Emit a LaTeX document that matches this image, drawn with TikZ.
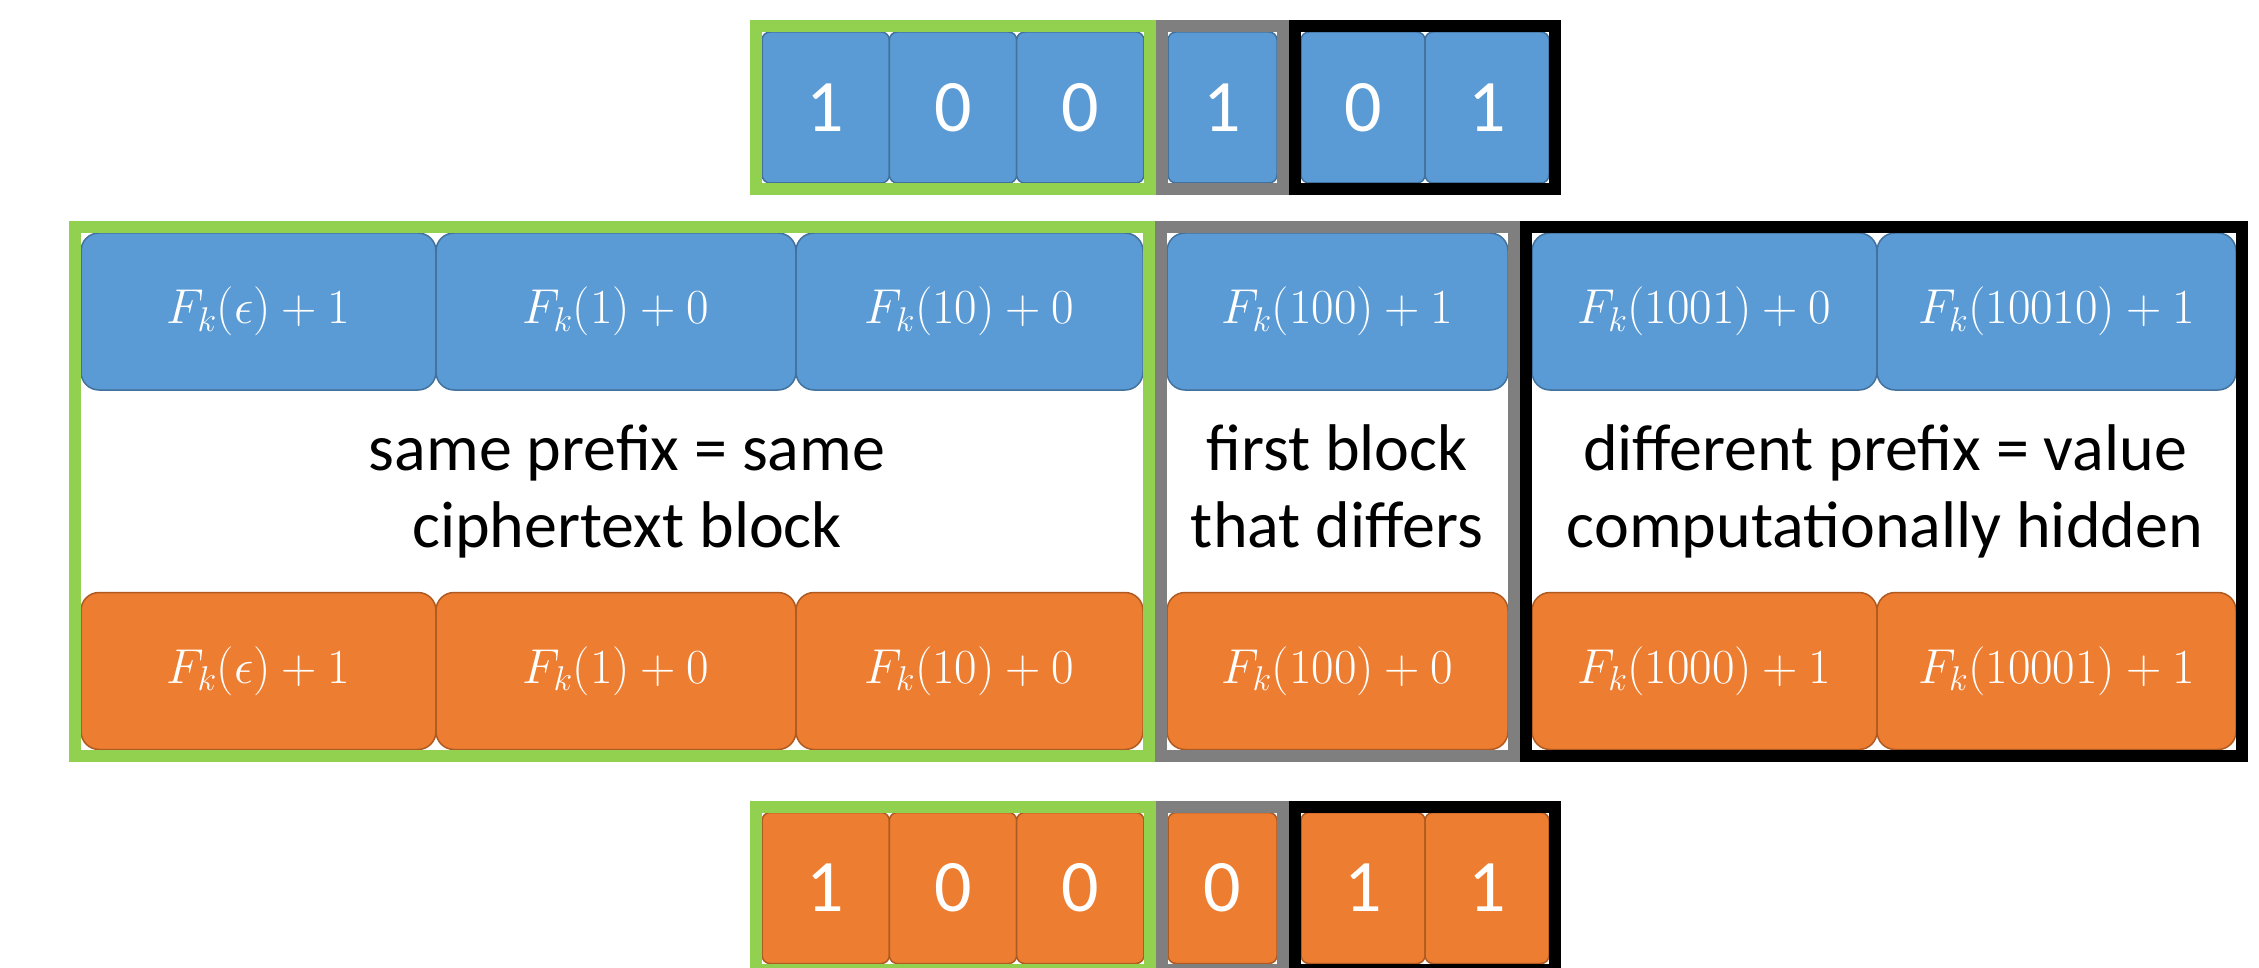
\RequirePackage{fix-cm}
\documentclass[tikz,border=0pt]{standalone}
\usepackage[no-math]{fontspec}
\setmainfont{Carlito}
\usetikzlibrary{fit}

\definecolor{cellblue}{HTML}{5B9BD5}
\definecolor{cellblueline}{HTML}{41719C}
\definecolor{cellorange}{HTML}{ED7D31}
\definecolor{cellorangeline}{HTML}{AE5A21}
\definecolor{framegreen}{HTML}{92D050}
\definecolor{framegray}{HTML}{7F7F7F}

\tikzset{
  cell/.style={rectangle, outer sep=0pt, inner sep=0pt, line width=1.5pt, text=white},
  bluecell/.style={cell, fill=cellblue, draw=cellblueline},
  orangecell/.style={cell, fill=cellorange, draw=cellorangeline},
  bitcell/.style={rounded corners=8pt, minimum height=151pt,
                  font=\fontsize{74}{80}\selectfont},
  fxcell/.style={rounded corners=18pt, minimum height=157pt,
                 font=\fontsize{49}{58}\selectfont},
  groupframe/.style={draw=#1, line width=12pt, inner sep=6pt, outer sep=0pt},
  midnote/.style={font=\fontsize{66}{77}\selectfont, align=center,
                  text=black, inner sep=0pt, anchor=base},
}

\begin{document}
\begin{tikzpicture}[x=1pt,y=-1pt]
\useasboundingbox (0,0) rectangle (2259,968);

% first plaintext, bit by bit
\node[bluecell,bitcell,minimum width=127.3pt] (t1) at (825.7,107.5) {1};
\node[bluecell,bitcell,minimum width=127.3pt] (t2) at (953.0,107.5) {0};
\node[bluecell,bitcell,minimum width=127.3pt] (t3) at (1080.3,107.5) {0};
\node[bluecell,bitcell,minimum width=109pt]   (t4) at (1222.5,107.5) {1};
\node[bluecell,bitcell,minimum width=124pt]   (t5) at (1363,107.5) {0};
\node[bluecell,bitcell,minimum width=124pt]   (t6) at (1487,107.5) {1};

% ciphertext blocks of the first plaintext
\node[bluecell,fxcell,minimum width=355pt] (b1) at (258.5,311.5) {$F_k(\epsilon)+1$};
\node[bluecell,fxcell,minimum width=360pt] (b2) at (616,311.5)   {$F_k(1)+0$};
\node[bluecell,fxcell,minimum width=347pt] (b3) at (969.5,311.5) {$F_k(10)+0$};
\node[bluecell,fxcell,minimum width=341pt] (b4) at (1337.5,311.5) {$F_k(100)+1$};
\node[bluecell,fxcell,minimum width=345pt] (b5) at (1704.5,311.5) {$F_k(1001)+0$};
\node[bluecell,fxcell,minimum width=359pt] (b6) at (2056.5,311.5) {$F_k(10010)+1$};

% ciphertext blocks of the second plaintext
\node[orangecell,fxcell,minimum width=355pt] (o1) at (258.5,671) {$F_k(\epsilon)+1$};
\node[orangecell,fxcell,minimum width=360pt] (o2) at (616,671)   {$F_k(1)+0$};
\node[orangecell,fxcell,minimum width=347pt] (o3) at (969.5,671) {$F_k(10)+0$};
\node[orangecell,fxcell,minimum width=341pt] (o4) at (1337.5,671) {$F_k(100)+0$};
\node[orangecell,fxcell,minimum width=345pt] (o5) at (1704.5,671) {$F_k(1000)+1$};
\node[orangecell,fxcell,minimum width=359pt] (o6) at (2056.5,671) {$F_k(10001)+1$};

% second plaintext, bit by bit
\node[orangecell,bitcell,minimum width=127.3pt] (u1) at (825.7,888) {1};
\node[orangecell,bitcell,minimum width=127.3pt] (u2) at (953.0,888) {0};
\node[orangecell,bitcell,minimum width=127.3pt] (u3) at (1080.3,888) {0};
\node[orangecell,bitcell,minimum width=109pt]   (u4) at (1222.5,888) {0};
\node[orangecell,bitcell,minimum width=124pt]   (u5) at (1363,888) {1};
\node[orangecell,bitcell,minimum width=124pt]   (u6) at (1487,888) {1};

% explanations between the two ciphertexts (anchored on the last baseline)
\node[midnote] (n1) at (627,547)  {same prefix = same\\ciphertext block};
\node[midnote] (n2) at (1337,547) {first block\\that differs};
\node[midnote] (n3) at (1885,547) {different prefix = value\\computationally hidden};

% grouping frames
\node[groupframe=framegreen, fit=(t1)(t3)] (tg) {};
\node[groupframe=framegray,  fit=(t4)]     (tm) {};
\node[groupframe=black,      fit=(t5)(t6)] (tk) {};

\node[groupframe=framegreen, fit=(b1)(o3)] (mg) {};
\node[groupframe=framegray,  fit=(b4)(o4)] (mm) {};
\node[groupframe=black,      fit=(b5)(o6)] (mk) {};

\node[groupframe=framegreen, fit=(u1)(u3)] (ug) {};
\node[groupframe=framegray,  fit=(u4)]     (um) {};
\node[groupframe=black,      fit=(u5)(u6)] (uk) {};
\end{tikzpicture}
\end{document}
